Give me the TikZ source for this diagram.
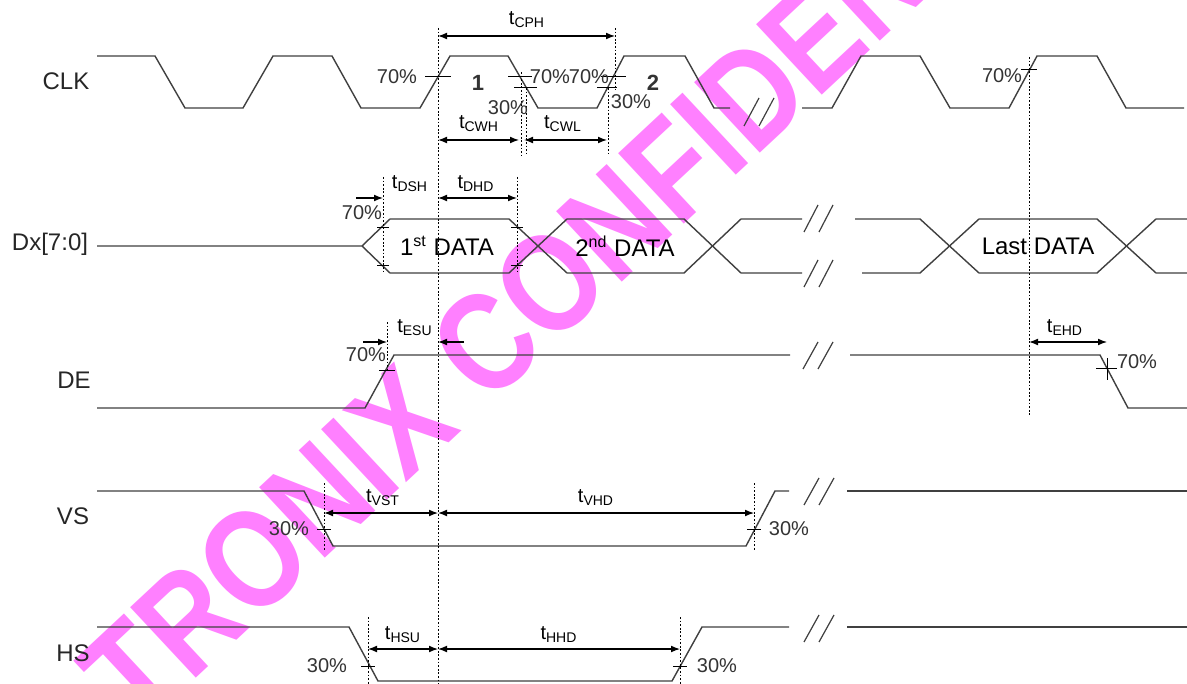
\documentclass[tikz,border=0pt]{standalone}
\usepackage{fontspec}
\setmainfont{Liberation Sans}
\usetikzlibrary{arrows.meta}

\definecolor{stampmag}{RGB}{255,0,255}
\tikzset{
  wave/.style={line width=0.7pt, draw=black!75},
  guide/.style={line width=0.45pt, dash pattern=on 0.9pt off 0.9pt},
  dimline/.style={line width=0.55pt, {Latex[length=4.5pt,width=3.4pt]}-{Latex[length=4.5pt,width=3.4pt]}},
  dimin/.style={line width=0.55pt, -{Latex[length=4.5pt,width=3.4pt]}},
  tickmark/.style={line width=0.5pt},
  breakmark/.style={line width=0.6pt, draw=black!75},
  pct/.style={font=\fontsize{10}{12}\selectfont, inner sep=0pt, text=black!80},
  tlabel/.style={font=\fontsize{10}{12}\selectfont, inner sep=0pt},
  signame/.style={font=\fontsize{12}{14}\selectfont, inner sep=0pt, text=black!85},
  datalabel/.style={font=\fontsize{12}{14}\selectfont, inner sep=0pt},
  stamp/.style={font=\fontsize{70}{76}\selectfont\bfseries, text=stampmag!50, inner sep=0pt,
    rotate=43, xscale=0.84, anchor=base west},
}
\newcommand{\tsub}[1]{t\textsubscript{#1}}

\begin{document}
\begin{tikzpicture}[x=0.5pt, y=-0.5pt]
  \def\clkH{56}
  \def\clkL{108}
  \def\dT{219}
  \def\dM{246}
  \def\dB{273}
  \def\deH{355}
  \def\deL{408}
  \def\vsH{491}
  \def\vsL{546}
  \def\hsH{627}
  \def\hsL{681}
  \fill[white] (0,0) rectangle (1187,684);
  \useasboundingbox (0,0) rectangle (1187,684);
  % watermark
  \begin{scope}
    \clip (0,0) rectangle (1187,684);
    \node[stamp] (stamp) at (138,733) {TRONIX CONFIDEN};
  \end{scope}
  %
  % signal names
  \node[signame] (clk) at (66,81)  {CLK};
  \node[signame] (dx)  at (50,244) {Dx[7:0]};
  \node[signame] (de)  at (74,380) {DE};
  \node[signame] (vs)  at (73,516) {VS};
  \node[signame] (hs)  at (73,653) {HS};
  %
  % CLK
  \draw[wave] (97,\clkH) -- (155,\clkH) -- (185,\clkL) -- (243,\clkL) -- (273,\clkH) -- (332,\clkH)
    -- (361,\clkL) -- (420,\clkL) -- (450,\clkH) -- (508,\clkH) -- (538,\clkL) -- (597,\clkL)
    -- (624,\clkH) -- (685,\clkH) -- (714,\clkL) -- (730,\clkL);
  \draw[wave] (802,\clkL) -- (832,\clkL) -- (861,\clkH) -- (920,\clkH) -- (950,\clkL) -- (1009,\clkL)
    -- (1037,\clkH) -- (1097,\clkH) -- (1126,\clkL) -- (1184,\clkL);
  \draw[breakmark] (744,126) -- (759,98);
  \draw[breakmark] (759,126) -- (774,98);
  %
  % Dx[7:0]
  \draw[wave] (97,\dM) -- (362,\dM) -- (390,\dT) -- (509,\dT) -- (567,\dB) -- (684,\dB) -- (741,\dT) -- (802,\dT);
  \draw[wave] (362,\dM) -- (390,\dB) -- (509,\dB) -- (567,\dT) -- (684,\dT) -- (741,\dB) -- (802,\dB);
  \draw[wave] (855,\dT) -- (920,\dT) -- (979,\dB) -- (1097,\dB) -- (1156,\dT) -- (1187,\dT);
  \draw[wave] (862,\dB) -- (920,\dB) -- (979,\dT) -- (1097,\dT) -- (1156,\dB) -- (1187,\dB);
  \draw[breakmark] (804,232) -- (818,205);
  \draw[breakmark] (819,232) -- (833,205);
  \draw[breakmark] (804,287) -- (818,260);
  \draw[breakmark] (819,287) -- (833,260);
  \node[datalabel] (d1)   at (447,\dM) {1\textsuperscript{st} DATA};
  \node[datalabel] (d2)   at (625,\dM) {2\textsuperscript{nd} DATA};
  \node[datalabel] (dlst) at (1038,\dM) {Last DATA};
  %
  % DE
  \draw[wave] (97,\deL) -- (365,\deL) -- (394,\deH) -- (790,\deH);
  \draw[wave] (850,\deH) -- (1100,\deH) -- (1128,\deL) -- (1187,\deL);
  \draw[breakmark] (803,369) -- (818,342);
  \draw[breakmark] (818,369) -- (833,342);
  %
  % VS
  \draw[wave] (97,\vsH) -- (304,\vsH) -- (333,\vsL) -- (746,\vsL) -- (775,\vsH) -- (789,\vsH);
  \draw[wave] (847,\vsH) -- (1187,\vsH);
  \draw[breakmark] (804,505) -- (819,478);
  \draw[breakmark] (819,505) -- (834,478);
  %
  % HS
  \draw[wave] (97,\hsH) -- (349,\hsH) -- (378,\hsL) -- (672,\hsL) -- (702,\hsH) -- (789,\hsH);
  \draw[wave] (847,\hsH) -- (1187,\hsH);
  \draw[breakmark] (804,642) -- (819,615);
  \draw[breakmark] (819,642) -- (834,615);
  %
  % guide lines
  \draw[guide] (438,28) -- (438,684);
  \draw[guide] (615,28) -- (615,90);
  \draw[guide] (608,88) -- (608,153);
  \draw[guide] (521,72) -- (521,155);
  \draw[guide] (526,88) -- (526,153);
  \draw[guide] (1029,57) -- (1029,415);
  \draw[guide] (383,177) -- (383,272);
  \draw[guide] (517,177) -- (517,272);
  \draw[guide] (387,322) -- (387,372);
  \draw[guide] (324,483) -- (324,550);
  \draw[guide] (754,483) -- (754,550);
  \draw[guide] (368,617) -- (368,684);
  \draw[guide] (680,617) -- (680,684);
  %
  % crossing marks
  \draw[tickmark] (425,77) -- (451,77);
  \draw[tickmark] (508,77) -- (532,77);
  \draw[tickmark] (514,88) -- (537,88);
  \draw[tickmark] (601,77) -- (626,77);
  \draw[tickmark] (597,88) -- (617,88);
  \draw[tickmark] (1021,70) -- (1037,70);
  \draw[tickmark] (377,228) -- (389,228);
  \draw[tickmark] (377,265) -- (389,265);
  \draw[tickmark] (511,228) -- (523,228);
  \draw[tickmark] (511,265) -- (523,265);
  \draw[tickmark] (379,370) -- (395,370);
  \draw[tickmark] (1096,368) -- (1117,368);
  \draw[tickmark] (1107,358) -- (1107,380);
  \draw[tickmark] (317,529) -- (331,529);
  \draw[tickmark] (747,529) -- (761,529);
  \draw[tickmark] (361,666) -- (375,666);
  \draw[tickmark] (673,666) -- (687,666);
  %
  % timing arrows
  \draw[dimline] (438,36) -- (615,36);
  \draw[dimline] (438,140) -- (519,140);
  \draw[dimline] (524,140) -- (607,140);
  \draw[dimin] (356,198) -- (383,198);
  \draw[dimline] (438,198) -- (517,198);
  \draw[dimin] (363,342) -- (387,342);
  \draw[dimin] (464,342) -- (438,342);
  \draw[dimline] (1029,342) -- (1107,342);
  \draw[dimline] (324,513) -- (438,513);
  \draw[dimline] (438,513) -- (754,513);
  \draw[dimline] (368,649) -- (438,649);
  \draw[dimline] (438,649) -- (680,649);
  %
  \node[tlabel] (tcph) at (527,20)   {\tsub{CPH}};
  \node[tlabel] (tcwh) at (479,124)  {\tsub{CWH}};
  \node[tlabel] (tcwl) at (563,124)  {\tsub{CWL}};
  \node[tlabel] (tdsh) at (410,184)  {\tsub{DSH}};
  \node[tlabel] (tdhd) at (476,184)  {\tsub{DHD}};
  \node[tlabel] (tesu) at (415,328)  {\tsub{ESU}};
  \node[tlabel] (tehd) at (1065,328) {\tsub{EHD}};
  \node[tlabel] (tvst) at (383,498)  {\tsub{VST}};
  \node[tlabel] (tvhd) at (596,498)  {\tsub{VHD}};
  \node[tlabel] (thsu) at (403,635)  {\tsub{HSU}};
  \node[tlabel] (thhd) at (559,635)  {\tsub{HHD}};
  %
  % levels
  \node[pct] (p1)  at (397,77)  {70\%};
  \node[pct] (p2)  at (550,77)  {70\%};
  \node[pct] (p3)  at (589,77)  {70\%};
  \node[pct] (p4)  at (508,108) {30\%};
  \node[pct] (p5)  at (631,102) {30\%};
  \node[pct] (p6)  at (1002,76) {70\%};
  \node[pct] (p7)  at (362,213) {70\%};
  \node[pct] (p8)  at (366,355) {70\%};
  \node[pct] (p9)  at (1137,362) {70\%};
  \node[pct] (p10) at (289,529) {30\%};
  \node[pct] (p11) at (789,529) {30\%};
  \node[pct] (p12) at (327,666) {30\%};
  \node[pct] (p13) at (717,666) {30\%};
  \node[pct, font=\fontsize{11}{13}\selectfont\bfseries] (n1) at (478,83) {1};
  \node[pct, font=\fontsize{11}{13}\selectfont\bfseries] (n2) at (653,83) {2};
\end{tikzpicture}
\end{document}
